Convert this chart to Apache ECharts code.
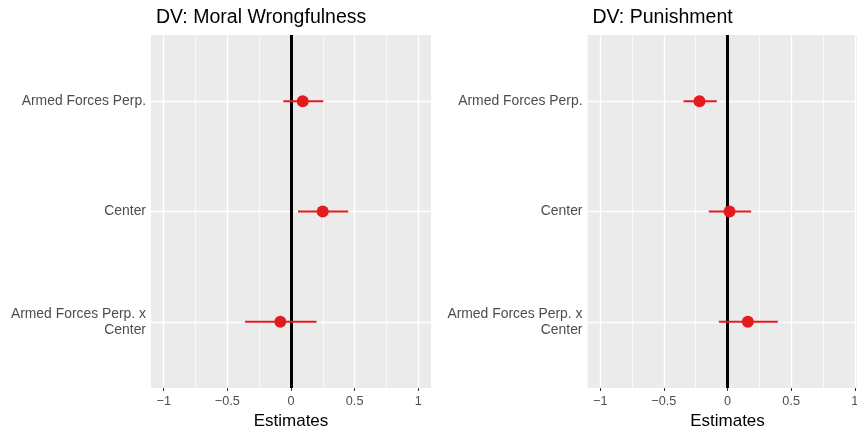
<!DOCTYPE html>
<html>
<head>
<meta charset="utf-8">
<script src="https://cdn.jsdelivr.net/npm/echarts@6/dist/echarts.min.js"></script>
<style>
html,body{margin:0;padding:0;background:#fff;}
#chart{width:857px;height:429px;}
</style>
</head>
<body>
<div id="chart"></div>
<script>
// ---- data ----
const categories = ['Armed Forces Perp.', 'Center', 'Armed Forces Perp. x\nCenter'];
const categoryPos = [1, 2, 3];
const panelTitles = ['DV: Moral Wrongfulness', 'DV: Punishment'];
const moralEst = [0.092, 0.249, -0.084];
const moralLo  = [-0.060, 0.055, -0.361];
const moralHi  = [0.254, 0.450, 0.200];
const punEst = [-0.220, 0.016, 0.160];
const punLo  = [-0.346, -0.147, -0.068];
const punHi  = [-0.084, 0.186, 0.395];
const xTicks = [-1, -0.5, 0, 0.5, 1];
const xMajorGrid = [-1, -0.5, 0.5, 1];
const xMinorGrid = [-0.75, -0.25, 0.25, 0.75];
const xAxisTitle = 'Estimates';

// ---- build ----
const FONT = '"Liberation Sans", Arial, Helvetica, sans-serif';
const RED = '#E41A1C';
const panels = [
  {est: moralEst, lo: moralLo, hi: moralHi, left: 151},
  {est: punEst, lo: punLo, hi: punHi, left: 587.5}
];
const fmtX = v => (v < 0 ? '\u2212' + Math.abs(v) : String(v));

const grids = [], xAxes = [], yAxes = [], series = [], titles = [];
panels.forEach((p, i) => {
  grids.push({left: p.left, top: 35, width: 280, height: 353, show: true,
    backgroundColor: '#EBEBEB', borderWidth: 0, containLabel: false, outerBoundsMode: 'none'});
  titles.push({text: panelTitles[i], left: p.left, top: 3,
    textStyle: {fontFamily: FONT, fontSize: 19.5, fontWeight: 'normal', color: '#000', lineHeight: 20}});
  xAxes.push({type: 'value', gridIndex: i, min: -1.1, max: 1.1,
    axisLine: {show: false},
    axisTick: {show: true, customValues: xTicks, length: 3, lineStyle: {color: '#333', width: 1}},
    axisLabel: {customValues: xTicks, formatter: fmtX, color: '#4D4D4D', fontFamily: FONT, fontSize: 12.7, margin: 7, showMinLabel: true, showMaxLabel: true},
    splitLine: {show: false},
    name: xAxisTitle, nameLocation: 'middle', nameGap: 24,
    nameTextStyle: {fontFamily: FONT, fontSize: 17, color: '#000'}
  });
  yAxes.push({type: 'value', gridIndex: i, min: 0.4, max: 3.6, inverse: true,
    axisLine: {show: false},
    axisTick: {show: true, customValues: categoryPos, length: 3, lineStyle: {color: '#333', width: 1}},
    axisLabel: {customValues: categoryPos, formatter: v => categories[Math.round(v) - 1],
      color: '#4D4D4D', fontFamily: FONT, fontSize: 13.9, lineHeight: 16, margin: 5, align: 'right'},
    splitLine: {show: false}
  });
  const ml = [];
  xMinorGrid.forEach(v => ml.push({xAxis: v, lineStyle: {color: '#fff', width: 0.7, type: 'solid'}}));
  xMajorGrid.forEach(v => ml.push({xAxis: v, lineStyle: {color: '#fff', width: 1.4, type: 'solid'}}));
  categoryPos.forEach(v => ml.push({yAxis: v, lineStyle: {color: '#fff', width: 1.4, type: 'solid'}}));
  ml.push({xAxis: 0, lineStyle: {color: '#000', width: 3, type: 'solid'}});
  series.push({type: 'scatter', xAxisIndex: i, yAxisIndex: i, z: 1, symbolSize: 0,
    data: p.est.map((e, k) => [e, categoryPos[k]]), silent: true,
    markLine: {silent: true, symbol: ['none', 'none'], label: {show: false}, animation: false, data: ml}
  });
  series.push({type: 'custom', xAxisIndex: i, yAxisIndex: i, zlevel: 1, z: 3, silent: true,
    data: p.lo.map((l, k) => [l, p.hi[k], categoryPos[k]]),
    encode: {x: [0, 1], y: 2},
    renderItem: (params, api) => {
      const a = api.coord([api.value(0), api.value(2)]);
      const b = api.coord([api.value(1), api.value(2)]);
      return {type: 'rect', shape: {x: a[0], y: a[1] - 1, width: b[0] - a[0], height: 2},
        style: {fill: RED, stroke: null, lineWidth: 0}};
    }
  });
  series.push({type: 'scatter', xAxisIndex: i, yAxisIndex: i, zlevel: 1, z: 4, symbol: 'circle', symbolSize: 12,
    itemStyle: {color: RED, opacity: 1},
    data: p.est.map((e, k) => [e, categoryPos[k]])
  });
});

const chart = echarts.init(document.getElementById('chart'), null, {renderer: 'canvas'});
chart.setOption({
  animation: false,
  backgroundColor: '#fff',
  title: titles,
  grid: grids,
  xAxis: xAxes,
  yAxis: yAxes,
  series: series
});
</script>
</body>
</html>
